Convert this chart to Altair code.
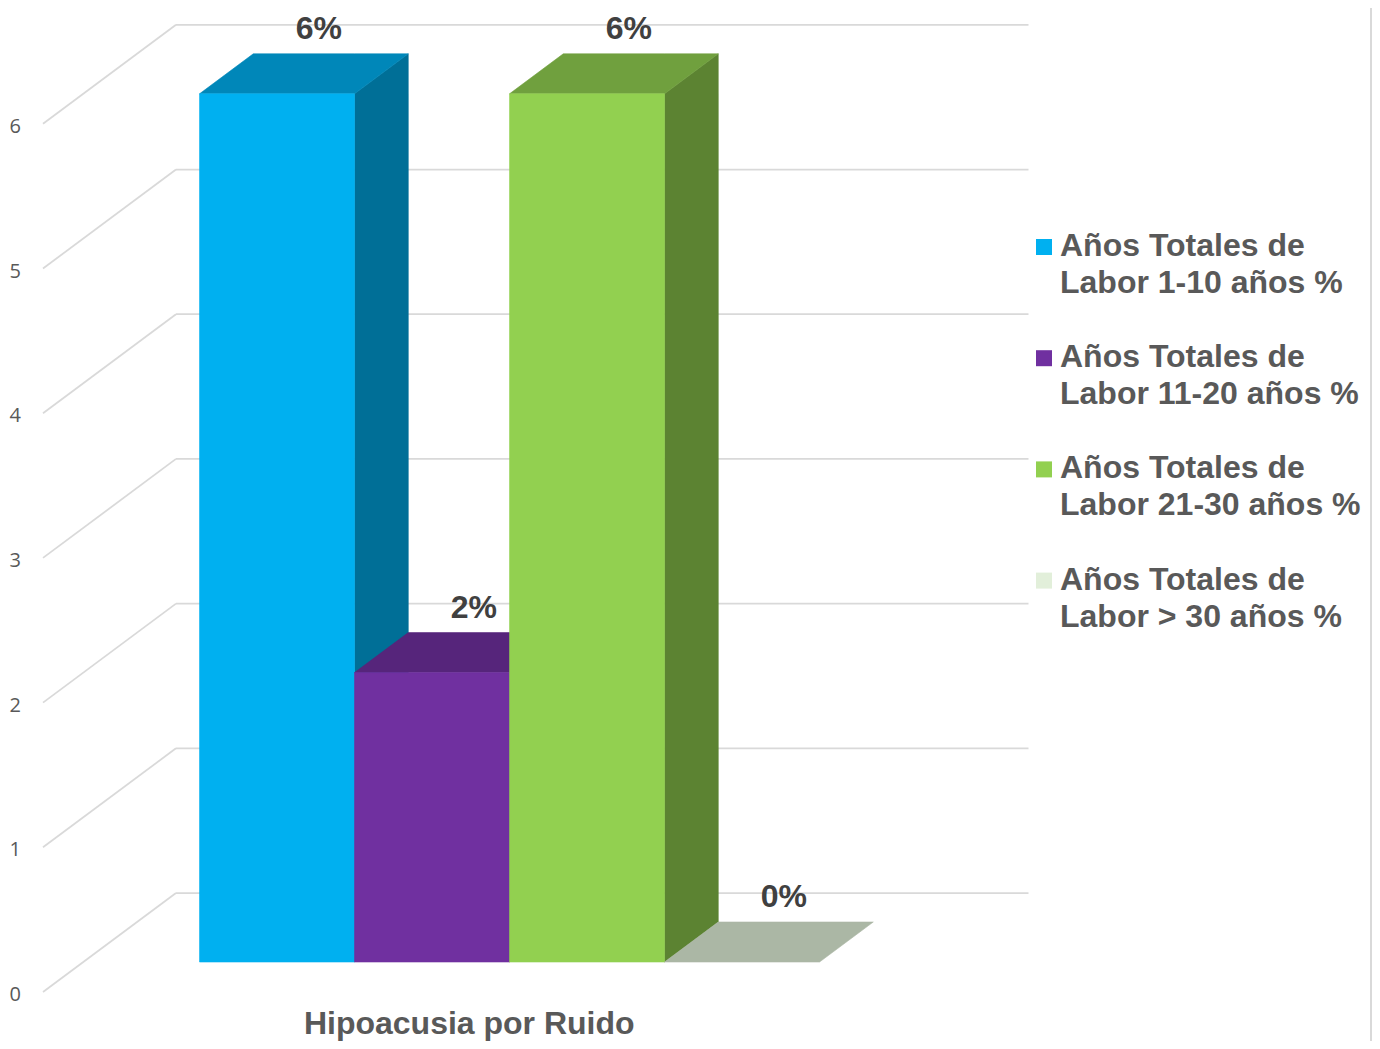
import altair as alt
import pandas as pd

# ---------------- data ----------------
series = [
    "Años Totales de Labor 1-10 años %",
    "Años Totales de Labor 11-20 años %",
    "Años Totales de Labor 21-30 años %",
    "Años Totales de Labor > 30 años %",
]
values = [6, 2, 6, 0]
category = ["Hipoacusia por Ruido"]
y_ticks = [0, 1, 2, 3, 4, 5, 6]

# ---------------- style ----------------
front_colors = ["#00B0F0", "#7030A0", "#92D050", "#E2EFDA"]
top_colors = ["#0087B9", "#56257B", "#70A03E", "#ABB7A5"]
side_colors = ["#006F97", "#471E65", "#5C8332", "#8E9989"]
GRID = "#D9D9D9"
TEXT = "#595959"
LABEL = "#404040"
FONT = "Liberation Sans"
BIG = 32

W, H = 1364, 1033
PX_X, PX_Y = 155.0, 144.7          # pixels per unit (one series slot / one value unit)
ORIGIN_X, ORIGIN_Y = 35.0, 984.0   # view pixel of the front-left floor corner
DX, DY = 133 / PX_X, 99 / PX_Y     # full depth of the 3-D box, in data units
Z0, Z1 = 0.303, 0.707              # depth where the bars start / end
FLOOR = 5.5                        # floor width in series slots
GAP = 0.75                         # gap before the first bar

xs = alt.Scale(domain=[-ORIGIN_X / PX_X, (W - ORIGIN_X) / PX_X], nice=False, zero=False)
ys = alt.Scale(domain=[(ORIGIN_Y - H) / PX_Y, ORIGIN_Y / PX_Y], nice=False, zero=False)


def X(f):
    return alt.X(f, scale=xs, axis=None)


def Y(f):
    return alt.Y(f, scale=ys, axis=None)


# ---------------- walls ----------------
grid_rows = []
for v in y_ticks:
    grid_rows.append(dict(x=0.0, x2=DX, y=v, y2=v + DY))               # left wall
    grid_rows.append(dict(x=DX, x2=FLOOR + DX, y=v + DY, y2=v + DY))    # back wall
grid = pd.DataFrame(grid_rows)

layers = []
layers.append(
    alt.Chart(grid).mark_rule(color=GRID, strokeWidth=1.75).encode(
        x=X("x:Q"), x2="x2:Q", y=Y("y:Q"), y2="y2:Q"
    )
)

tick_df = pd.DataFrame({"v": y_ticks, "x": [0.0] * len(y_ticks)})
layers.append(
    alt.Chart(tick_df).mark_text(
        align="right", baseline="middle", dx=-22, dy=3, fontSize=20,
        font="Open Sans", color=TEXT
    ).encode(x=X("x:Q"), y=Y("v:Q"), text="v:Q")
)

# ---------------- 3-D bars ----------------
ddx = (Z1 - Z0) * DX
ddy = (Z1 - Z0) * DY
face_rows = []
front_rows = []
for i, v in enumerate(values):
    xa = GAP + i + Z0 * DX
    y0 = Z0 * DY
    ya = v + y0
    face_rows += [
        dict(bar=i, face="side", x=xa + 1, y=y0, y2=ya),
        dict(bar=i, face="side", x=xa + 1 + ddx, y=y0 + ddy, y2=ya + ddy),
        dict(bar=i, face="top", x=xa, y=ya, y2=ya),
        dict(bar=i, face="top", x=xa + ddx, y=ya, y2=ya + ddy),
        dict(bar=i, face="top", x=xa + 1, y=ya, y2=ya + ddy),
        dict(bar=i, face="top", x=xa + 1 + ddx, y=ya + ddy, y2=ya + ddy),
    ]
    front_rows.append(dict(bar=i, x=xa, x2=xa + 1, y=y0, y2=ya))
faces = pd.DataFrame(face_rows)
fronts = pd.DataFrame(front_rows)

for i, v in enumerate(values):
    if v > 0:
        layers.append(
            alt.Chart(faces).transform_filter(
                f"datum.bar == {i} && datum.face == 'side'"
            ).mark_area(
                color=side_colors[i], stroke=side_colors[i], strokeWidth=0.6,
                orient="vertical", interpolate="linear", opacity=1
            ).encode(x=X("x:Q"), y=Y("y:Q"), y2="y2:Q")
        )
    layers.append(
        alt.Chart(faces).transform_filter(
            f"datum.bar == {i} && datum.face == 'top'"
        ).mark_area(
            color=top_colors[i], stroke=top_colors[i], strokeWidth=0.6,
            orient="vertical", interpolate="linear", opacity=1
        ).encode(x=X("x:Q"), y=Y("y:Q"), y2="y2:Q")
    )
    if v > 0:
        layers.append(
            alt.Chart(fronts).transform_filter(f"datum.bar == {i}").mark_rect(
                color=front_colors[i], stroke=front_colors[i], strokeWidth=0.6, opacity=1
            ).encode(x=X("x:Q"), x2="x2:Q", y=Y("y:Q"), y2="y2:Q")
        )

# ---------------- data labels ----------------
lab_df = pd.DataFrame({
    "x": [GAP + i + 0.5 + Z1 * DX for i in range(len(values))],
    "y": [v + Z1 * DY for v in values],
    "t": [f"{v:.0f}%" for v in values],
})
layers.append(
    alt.Chart(lab_df).mark_text(
        align="center", baseline="alphabetic", dx=-12, dy=-15, fontSize=BIG,
        fontWeight="bold", font=FONT, color=LABEL
    ).encode(x=X("x:Q"), y=Y("y:Q"), text="t:N")
)

# ---------------- category label ----------------
cat_df = pd.DataFrame({"x": [FLOOR / 2], "y": [0.0], "t": category})
layers.append(
    alt.Chart(cat_df).mark_text(
        align="center", baseline="alphabetic", dy=42, fontSize=BIG,
        fontWeight="bold", font=FONT, color=TEXT
    ).encode(x=X("x:Q"), y=Y("y:Q"), text="t:N")
)

# ---------------- legend ----------------
LEG_STEP = 111.2
for i, s in enumerate(series):
    ldf = pd.DataFrame({"t": [s.replace(" de ", " de\n", 1)]})
    layers.append(
        alt.Chart(ldf).mark_square(size=256, color=front_colors[i], opacity=1).encode(
            x=alt.value(1036), y=alt.value(239 + LEG_STEP * i)
        )
    )
    layers.append(
        alt.Chart(ldf).mark_text(
            align="left", baseline="alphabetic", lineBreak="\n", lineHeight=37,
            fontSize=BIG, fontWeight="bold", font=FONT, color=TEXT
        ).encode(x=alt.value(1052), y=alt.value(248 + LEG_STEP * i), text="t:N")
    )

# right border of the chart area
layers.append(
    alt.Chart(pd.DataFrame({"a": [0]})).mark_rule(color=GRID, strokeWidth=2).encode(
        x=alt.value(W - 1), y=alt.value(0), y2=alt.value(H)
    )
)

chart = alt.layer(*layers).properties(
    width=W, height=H, padding=0, autosize=alt.AutoSizeParams(type="none"),
    background="white",
).configure_view(strokeWidth=0, stroke="transparent")

chart.save("out.html", embed_options={"renderer": "svg", "actions": False})
